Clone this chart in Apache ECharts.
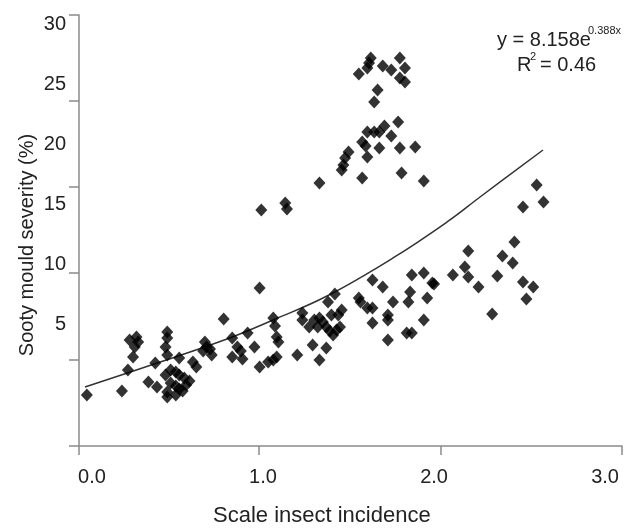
<!DOCTYPE html>
<html>
<head>
<meta charset="utf-8">
<script src="https://cdn.jsdelivr.net/npm/echarts@6/dist/echarts.min.js"></script>
<style>html,body{margin:0;padding:0;background:#fff}#c{width:627px;height:529px}</style>
</head>
<body>
<div id="c"></div>
<script>
// Scatter points: [Scale insect incidence, Sooty mould severity (%)]
const points = [
[-0.03,-0.90],[0.175,-0.57],[0.21,1.18],[0.22,3.68],[0.26,3.93],[0.27,3.52],[0.25,3.10],[0.24,2.27],
[0.33,0.18],[0.38,-0.23],[0.37,1.77],[0.44,4.35],[0.44,3.85],[0.43,3.10],[0.44,2.43],
[0.43,0.77],[0.46,1.18],[0.49,1.02],[0.51,0.77],[0.54,0.52],[0.46,0.10],[0.49,-0.15],[0.51,-0.40],
[0.55,-0.07],[0.44,-0.65],[0.49,-0.90],[0.53,-0.57],[0.57,0.27],[0.44,-1.07],[0.51,2.18],[0.59,1.85],
[0.61,1.43],[0.66,3.52],[0.67,3.10],[0.69,2.93],[0.65,2.77],[0.70,2.43],[0.77,5.43],[0.82,3.85],
[0.85,3.10],[0.87,2.77],[0.82,2.27],[0.88,2.10],[0.91,4.27],[0.95,3.10],[0.98,8.02],[0.98,1.43],
[1.03,1.85],[1.06,2.02],[1.06,5.52],[1.07,4.85],[1.08,3.93],[1.09,3.52],[1.08,2.27],[1.20,2.43],
[1.23,5.93],[1.23,5.35],[1.27,4.77],[1.30,5.35],[1.33,5.52],[1.35,5.18],[1.32,4.77],[1.37,4.77],
[1.39,4.43],[1.41,4.10],[1.43,4.52],[1.45,4.77],[1.29,3.27],[1.37,3.02],[1.33,2.02],[1.38,6.85],
[1.42,7.52],[1.44,5.77],[1.46,6.18],[1.40,5.77],[1.56,7.18],[1.57,6.85],[1.61,6.35],[1.64,6.35],
[1.64,5.10],[1.64,8.68],[1.70,8.10],[1.73,5.77],[1.73,5.35],[1.76,6.85],[1.73,3.68],[1.84,4.27],
[1.87,4.27],[1.86,7.68],[1.85,6.85],[1.87,9.10],[1.94,9.27],[1.96,7.18],[1.94,5.35],[1.99,8.43],
[2.11,9.10],[2.18,9.77],[2.20,8.93],[2.20,11.10],[2.26,8.10],[1.94,16.93],[2.60,16.60],[2.52,14.77],
[2.64,15.18],[2.47,11.85],[2.40,10.68],[2.46,10.10],[2.00,8.35],[2.37,9.02],[2.52,8.52],[2.58,8.10],
[2.54,7.10],[2.34,5.85],
[1.63,27.18],[1.62,26.77],[1.61,26.35],[1.56,25.85],[1.70,26.52],[1.75,26.18],[1.80,27.18],[1.83,26.35],
[1.80,25.52],[1.83,25.18],[1.67,24.52],[1.65,23.52],[1.79,21.85],[1.71,21.52],[1.68,21.02],[1.65,21.02],
[1.61,21.02],[1.75,20.68],[1.58,20.18],[1.60,19.85],[1.68,19.68],[1.80,19.68],[1.89,19.77],[1.50,19.35],
[1.48,18.85],[1.47,18.27],[1.46,17.85],[1.61,18.93],[1.33,16.77],[1.58,17.18],[1.81,17.60],
[0.99,14.52],[1.13,15.10],[1.14,14.60]
];
// Fitted exponential trend line
const trend = [
[-0.041,-0.23],[0.398,1.85],[0.789,3.77],[1.058,5.35],[1.374,7.35],[1.760,10.52],[2.076,13.52],[2.269,15.60],[2.637,19.52]
];
const xLabels = [0, 1, 2, 3];
const yLabels = [5, 10, 15, 20, 25, 30];
const xTicks = [-0.076, 0.977, 2.041, 3.099];
const yTicks = [-5.15, 2.02, 9.27, 16.43, 23.6, 30.77];

const FONT = '"Liberation Sans",Arial,sans-serif';
const axisCol = '#8a8a8a';
const chart = echarts.init(document.getElementById('c'), null, {renderer: 'canvas'});
chart.setOption({
  animation: false,
  backgroundColor: '#ffffff',
  grid: {left: 79, right: 5, top: 15, bottom: 83, containLabel: false},
  xAxis: {
    type: 'value', min: xTicks[0], max: xTicks[3],
    splitLine: {show: false},
    axisLine: {show: true, onZero: false, lineStyle: {color: axisCol, width: 1.5}},
    axisTick: {show: true, length: 9, customValues: xTicks, lineStyle: {color: axisCol, width: 1.5}},
    axisLabel: {show: true, customValues: xLabels, margin: 21, color: '#222', fontSize: 20, fontFamily: FONT,
      formatter: v => Number(v).toFixed(1)}
  },
  yAxis: {
    type: 'value', min: yTicks[0], max: yTicks[5],
    splitLine: {show: false},
    axisLine: {show: true, onZero: false, lineStyle: {color: axisCol, width: 1.5}},
    axisTick: {show: true, length: 10, customValues: yTicks, lineStyle: {color: axisCol, width: 1.5}},
    axisLabel: {show: true, customValues: yLabels, margin: 13, color: '#222', fontSize: 20, fontFamily: FONT}
  },
  series: [
    {type: 'scatter', data: points, symbol: 'diamond', symbolSize: [12, 13],
     itemStyle: {color: '#000'}, z: 3},
    {type: 'line', data: trend, smooth: 0.4, showSymbol: false, symbol: 'none',
     lineStyle: {color: '#333', width: 1.5}, z: 2}
  ],
  graphic: [
    {type: 'text', x: 27, y: 245, rotation: Math.PI / 2,
     style: {text: 'Sooty mould severity (%)', font: '20px ' + FONT, fill: '#222', textAlign: 'center', textVerticalAlign: 'middle'}},
    {type: 'text', x: 213, y: 516,
     style: {text: 'Scale insect incidence', font: '22px ' + FONT, fill: '#222', textAlign: 'left', textVerticalAlign: 'middle'}},
    {type: 'text', x: 497, y: 40,
     style: {text: 'y = 8.158e', font: '20px ' + FONT, fill: '#222', textAlign: 'left', textVerticalAlign: 'middle'}},
    {type: 'text', x: 588, y: 31,
     style: {text: '0.388x', font: '11px ' + FONT, fill: '#222', textAlign: 'left', textVerticalAlign: 'middle'}},
    {type: 'text', x: 517, y: 65,
     style: {text: 'R', font: '20px ' + FONT, fill: '#222', textAlign: 'left', textVerticalAlign: 'middle'}},
    {type: 'text', x: 530, y: 57,
     style: {text: '2', font: '11px ' + FONT, fill: '#222', textAlign: 'left', textVerticalAlign: 'middle'}},
    {type: 'text', x: 540, y: 65,
     style: {text: '= 0.46', font: '20px ' + FONT, fill: '#222', textAlign: 'left', textVerticalAlign: 'middle'}}
  ]
});
</script>
</body>
</html>
